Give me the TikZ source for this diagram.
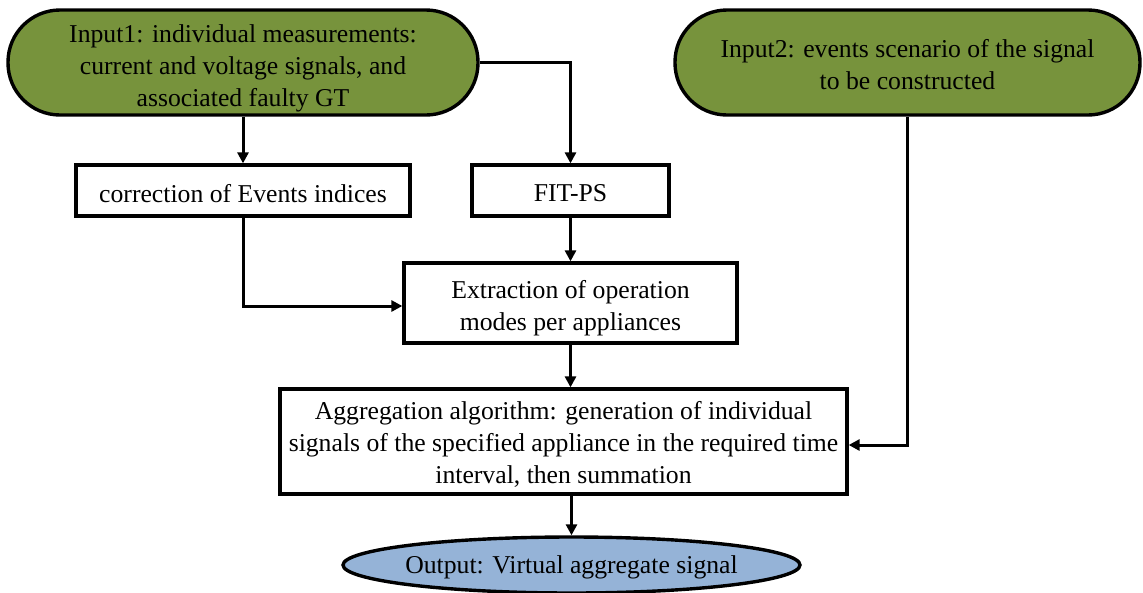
\documentclass[tikz,border=0pt]{standalone}
\usepackage{fontspec}
\setmainfont{Liberation Serif}
\usetikzlibrary{arrows.meta,shapes.geometric}
\definecolor{olive}{HTML}{77933C}
\definecolor{outblue}{HTML}{95B3D7}
\tikzset{
  every node/.style={font=\fontsize{25.7}{32}\selectfont, text=black, align=center, inner sep=0pt},
  stadium/.style={draw=black, line width=3.4pt, fill=olive, rounded corners=52pt},
  procbox/.style={draw=black, line width=3.3pt, fill=white},
  outell/.style={draw=black, line width=3.4pt, fill=outblue, ellipse},
  conn/.style={line width=3pt, -{Triangle[length=11pt,width=11pt]}},
  txt/.style 2 args={label={[yshift=-#1pt]center:{#2}}},
}
\begin{document}
\begin{tikzpicture}[x=1pt,y=-1pt]
\useasboundingbox (0,0) rectangle (1143,592);
\clip (0,0) rectangle (1143,592);
\node[stadium, minimum width=470pt, minimum height=105pt,
  txt={5.5}{Input1: individual measurements:\\current and voltage signals, and\\associated\ faulty GT}] (in1) at (243,62.5) {};
\node[stadium, minimum width=465pt, minimum height=105pt,
  txt={2.5}{Input2: events scenario of the signal\\to be constructed}] (in2) at (907.5,62.5) {};
\node[procbox, minimum width=334pt, minimum height=51pt,
  txt={3.5}{correction of Events indices}] (corr) at (243,190.5) {};
\node[procbox, minimum width=197pt, minimum height=51pt,
  txt={3}{FIT-PS}] (fit) at (570.5,190.5) {};
\node[procbox, minimum width=333pt, minimum height=80pt,
  txt={5.5}{Extraction\ of operation\\modes per appliances}] (ext) at (570.5,303) {};
\node[procbox, minimum width=567pt, minimum height=105pt,
  txt={3}{Aggregation\ algorithm: generation of individual\\signals of the specified appliance in the required time\\interval, then summation}] (agg) at (563.5,441.5) {};
\node[outell, minimum width=457pt, minimum height=56pt,
  txt={2}{Output: Virtual aggregate\ signal}] (out) at (571.5,565) {};

\draw[conn] (in1.south) -- (corr.north);
\draw[conn] (in1.east) -| (fit.north);
\draw[conn] (corr.south) |- ([yshift=-3pt]ext.west);
\draw[conn] (fit.south) -- (ext.north);
\draw[conn] (ext.south) -- (ext.south |- agg.north);
\draw[conn] (in2.south) |- ([yshift=-3.5pt]agg.east);
\draw[conn] (out.north |- agg.south) -- (out.north);
\end{tikzpicture}
\end{document}
